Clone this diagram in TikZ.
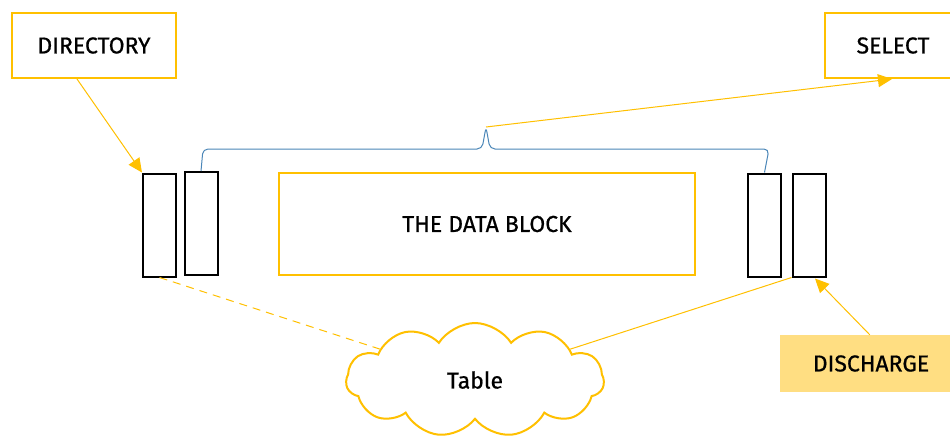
\documentclass[tikz,border=0pt]{standalone}
\usepackage{fontspec}
\newfontfamily\labelfont{Fira Sans}[FakeBold=0.7]
\usetikzlibrary{arrows.meta,shapes.symbols,calc}
\definecolor{gold}{HTML}{FFC000}
\definecolor{paleGold}{HTML}{FFDE82}
\definecolor{braceBlue}{HTML}{4A86B8}
\tikzset{
  label text/.style={font=\labelfont\fontsize{23}{26}\selectfont},
  label box/.style={draw=gold,line width=2pt,fill=white,inner sep=0pt,label text},
  slot/.style={draw=black,line width=2pt,fill=white,inner sep=0pt,minimum width=33pt,minimum height=103pt},
  link/.style={draw=gold,line width=1pt},
  pointer/.style={link,-{Triangle[length=14pt,width=13pt]}},
}
\begin{document}
\begin{tikzpicture}[x=1pt,y=-1pt]
\clip (0,0) rectangle (950,437);
\fill[white] (0,0) rectangle (950,437);

% labelled boxes
\node[label box,minimum width=164pt,minimum height=65pt] (dir) at (94,45.5) {DIRECTORY};
\node[label box,minimum width=136pt,minimum height=65pt] (sel) at (893,45.5) {SELECT};
\node[label box,minimum width=416pt,minimum height=102pt] (data) at (487,224) {THE DATA BLOCK};
\node[fill=paleGold,inner sep=0pt,minimum width=182pt,minimum height=57pt,label text] (dis) at (871,363.5) {DISCHARGE};

% slots on both sides of the block
\node[slot] (s1) at (159.5,225) {};
\node[slot] (s2) at (201,223.5) {};
\node[slot] (s3) at (764.5,225) {};
\node[slot] (s4) at (809,225) {};

% the table cloud
\node[cloud,cloud puffs=11,cloud puff arc=115,aspect=2.3,draw=gold,line width=2pt,fill=white,
      minimum width=258pt,minimum height=114pt,label text] (tab) at (475,380) {Table};

% brace over the block
\coordinate (tip) at (486,127);
\draw[braceBlue,line width=1pt,rounded corners=5pt]
  (s2.north) -- (203,149) -- (482,149) -- (tip) -- (490,149) -- (769,149) -- (s3.north);

% connectors
\draw[pointer] ($(dir.south west)+(66,0)$) -- (s1.north west);
\draw[pointer] (tip) -- ($(sel.south west)+(68,0)$);
\draw[pointer] ($(dis.north west)+(90,0)$) -- ($(s4.south)+(6,1)$);
\draw[link,dashed,dash pattern=on 8pt off 6pt] (s1.south) -- (tab);
\draw[link] (s4.south west) -- (tab);
\end{tikzpicture}
\end{document}
